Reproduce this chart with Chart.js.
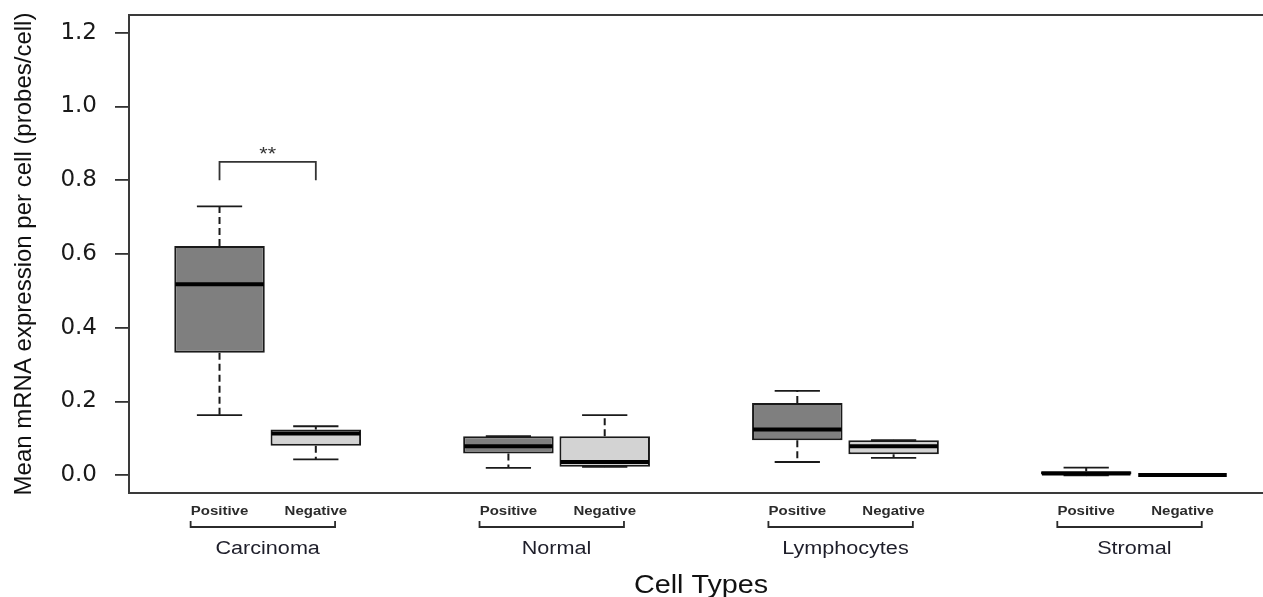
<!DOCTYPE html>
<html>
<head>
<meta charset="utf-8">
<script src="https://cdn.jsdelivr.net/npm/chart.js@4.4.0/dist/chart.umd.min.js"></script>
<style>
  html, body { margin: 0; padding: 0; background: #fff; }
  #wrap { width: 1263px; height: 597px; }
</style>
</head>
<body>
<div id="wrap"><canvas id="myChart"></canvas></div>
<script>
const groups = ["Carcinoma", "Normal", "Lymphocytes", "Stromal"];
const statuses = ["Positive", "Negative"];
const positions = [1, 2, 4, 5, 7, 8, 10, 11];
const whiskerLow  = [0.163, 0.043, 0.020, 0.023, 0.036, 0.047, 0.000, 0.000];
const q1          = [0.332, 0.080, 0.059, 0.023, 0.095, 0.057, 0.000, 0.000];
const medians     = [0.518, 0.113, 0.079, 0.036, 0.124, 0.079, 0.005, 0.001];
const q3          = [0.622, 0.124, 0.106, 0.106, 0.196, 0.095, 0.011, 0.002];
const whiskerHigh = [0.729, 0.133, 0.106, 0.163, 0.229, 0.095, 0.021, 0.002];
const yTicks = [0, 0.2, 0.4, 0.6, 0.8, 1.0, 1.2];
// significance mark between Carcinoma positive and negative
const sigPair = [1, 2];
const sigLevels = [0.8, 0.85];
const sigLabel = "**";

const fills = { Positive: "#7f7f7f", Negative: "#d3d3d3" };

// draws text stretched horizontally like the original picture
function wideText(ctx, str, x, y, sx) {
  ctx.save();
  ctx.translate(x, y);
  ctx.scale(sx, 1);
  ctx.fillText(str, 0, 0);
  ctx.restore();
}

function seg(ctx, x1, y1, x2, y2) {
  ctx.beginPath();
  ctx.moveTo(x1, y1);
  ctx.lineTo(x2, y2);
  ctx.stroke();
}

const boxExtras = {
  id: "boxExtras",
  afterDatasetsDraw(chart) {
    const { ctx, scales: { x, y } } = chart;
    ctx.save();
    ctx.strokeStyle = "#1a1a1a";
    positions.forEach((p, i) => {
      const cx = x.getPixelForValue(p);
      const half = x.getPixelForValue(p + 0.47) - cx;
      const capHalf = x.getPixelForValue(p + 0.235) - cx;
      ctx.lineWidth = 2;
      ctx.setLineDash([7, 4]);
      seg(ctx, cx, y.getPixelForValue(q3[i]), cx, y.getPixelForValue(whiskerHigh[i]));
      seg(ctx, cx, y.getPixelForValue(q1[i]), cx, y.getPixelForValue(whiskerLow[i]));
      ctx.setLineDash([]);
      ctx.lineWidth = 1.8;
      seg(ctx, cx - capHalf, y.getPixelForValue(whiskerHigh[i]), cx + capHalf, y.getPixelForValue(whiskerHigh[i]));
      seg(ctx, cx - capHalf, y.getPixelForValue(whiskerLow[i]), cx + capHalf, y.getPixelForValue(whiskerLow[i]));
      ctx.lineWidth = 4;
      ctx.strokeStyle = "#000";
      seg(ctx, cx - half + 1, y.getPixelForValue(medians[i]), cx + half - 1, y.getPixelForValue(medians[i]));
      ctx.strokeStyle = "#1a1a1a";
    });

    // significance bracket
    const xa = x.getPixelForValue(sigPair[0]);
    const xb = x.getPixelForValue(sigPair[1]);
    const yl = y.getPixelForValue(sigLevels[0]);
    const yh = y.getPixelForValue(sigLevels[1]);
    ctx.lineWidth = 1.8;
    ctx.strokeStyle = "#333";
    ctx.beginPath();
    ctx.moveTo(xa, yl);
    ctx.lineTo(xa, yh);
    ctx.lineTo(xb, yh);
    ctx.lineTo(xb, yl);
    ctx.stroke();
    ctx.fillStyle = "#333";
    ctx.font = "18px 'Liberation Sans'";
    ctx.textAlign = "center";
    ctx.textBaseline = "alphabetic";
    wideText(ctx, sigLabel, (xa + xb) / 2, yh - 2, 1.2);
    ctx.restore();
  },
  afterDraw(chart) {
    const { ctx, chartArea: { left, top, right, bottom }, scales: { x } } = chart;
    ctx.save();
    // plot frame (right side lies outside the picture)
    ctx.strokeStyle = "#3a3a3a";
    ctx.lineWidth = 2;
    ctx.beginPath();
    ctx.moveTo(right + 10, top);
    ctx.lineTo(left, top);
    ctx.lineTo(left, bottom);
    ctx.lineTo(right + 10, bottom);
    ctx.stroke();

    ctx.textAlign = "center";
    ctx.textBaseline = "alphabetic";
    groups.forEach((g, gi) => {
      const pPos = positions[gi * 2];
      const pNeg = positions[gi * 2 + 1];
      ctx.fillStyle = "#2b2b2b";
      ctx.font = "bold 12.5px 'Liberation Sans'";
      wideText(ctx, statuses[0], x.getPixelForValue(pPos), bottom + 22, 1.2);
      wideText(ctx, statuses[1], x.getPixelForValue(pNeg), bottom + 22, 1.2);
      const bl = x.getPixelForValue(pPos - 0.3);
      const br = x.getPixelForValue(pNeg + 0.2);
      ctx.strokeStyle = "#2b2b2b";
      ctx.lineWidth = 1.8;
      ctx.beginPath();
      ctx.moveTo(bl, bottom + 28);
      ctx.lineTo(bl, bottom + 34);
      ctx.lineTo(br, bottom + 34);
      ctx.lineTo(br, bottom + 28);
      ctx.stroke();
      ctx.fillStyle = "#1e1e2a";
      ctx.font = "18px 'Liberation Sans'";
      wideText(ctx, g, x.getPixelForValue((pPos + pNeg) / 2), bottom + 61, 1.2);
    });
    ctx.fillStyle = "#111";
    ctx.font = "25px 'Liberation Sans'";
    wideText(ctx, "Cell Types", x.getPixelForValue(6), bottom + 100, 1.15);
    ctx.restore();
  }
};

document.addEventListener("DOMContentLoaded", function () {
  const ctx = document.getElementById("myChart");
  new Chart(ctx, {
    type: "bar",
    data: {
      datasets: [
        {
          label: "IQR",
          data: positions.map((p, i) => ({ x: p, y: [q1[i], q3[i]] })),
          backgroundColor: positions.map((p, i) => fills[statuses[i % 2]]),
          borderColor: "#1a1a1a",
          borderWidth: 2,
          borderSkipped: false,
          categoryPercentage: 1.0,
          barPercentage: 0.94,
        },
      ],
    },
    options: {
      responsive: true,
      maintainAspectRatio: false,
      animation: false,
      layout: { padding: { top: 15, left: 0, right: 0, bottom: 0 } },
      plugins: {
        legend: { display: false },
        tooltip: { enabled: false },
      },
      scales: {
        x: {
          type: "linear",
          offset: false,
          min: 0.06,
          max: 11.836,
          afterFit: function (s) {
            s.height = 104;
            s.paddingLeft = 0;
            s.paddingRight = 0;
          },
          grid: { display: false },
          border: { display: false },
          ticks: { display: false },
        },
        y: {
          min: -0.048,
          max: 1.248,
          afterBuildTicks: function (s) {
            s.ticks = yTicks.map(v => ({ value: v }));
          },
          afterFit: function (s) {
            s.width = 129;
            s.paddingTop = 0;
            s.paddingBottom = 0;
          },
          border: { display: false },
          grid: {
            drawOnChartArea: false,
            drawTicks: true,
            tickLength: 14,
            color: "#333",
            lineWidth: 1.8,
          },
          ticks: {
            padding: 18,
            color: "#1a1a1a",
            font: { family: "DejaVu Sans", size: 23 },
            callback: function (value) { return Number(value).toFixed(1); },
          },
          title: {
            display: true,
            text: "Mean mRNA expression per cell (probes/cell)",
            color: "#111",
            font: { family: "Liberation Sans", size: 24 },
            padding: { top: 10, bottom: 0 },
          },
        },
      },
    },
    plugins: [boxExtras],
  });
});
</script>
</body>
</html>
